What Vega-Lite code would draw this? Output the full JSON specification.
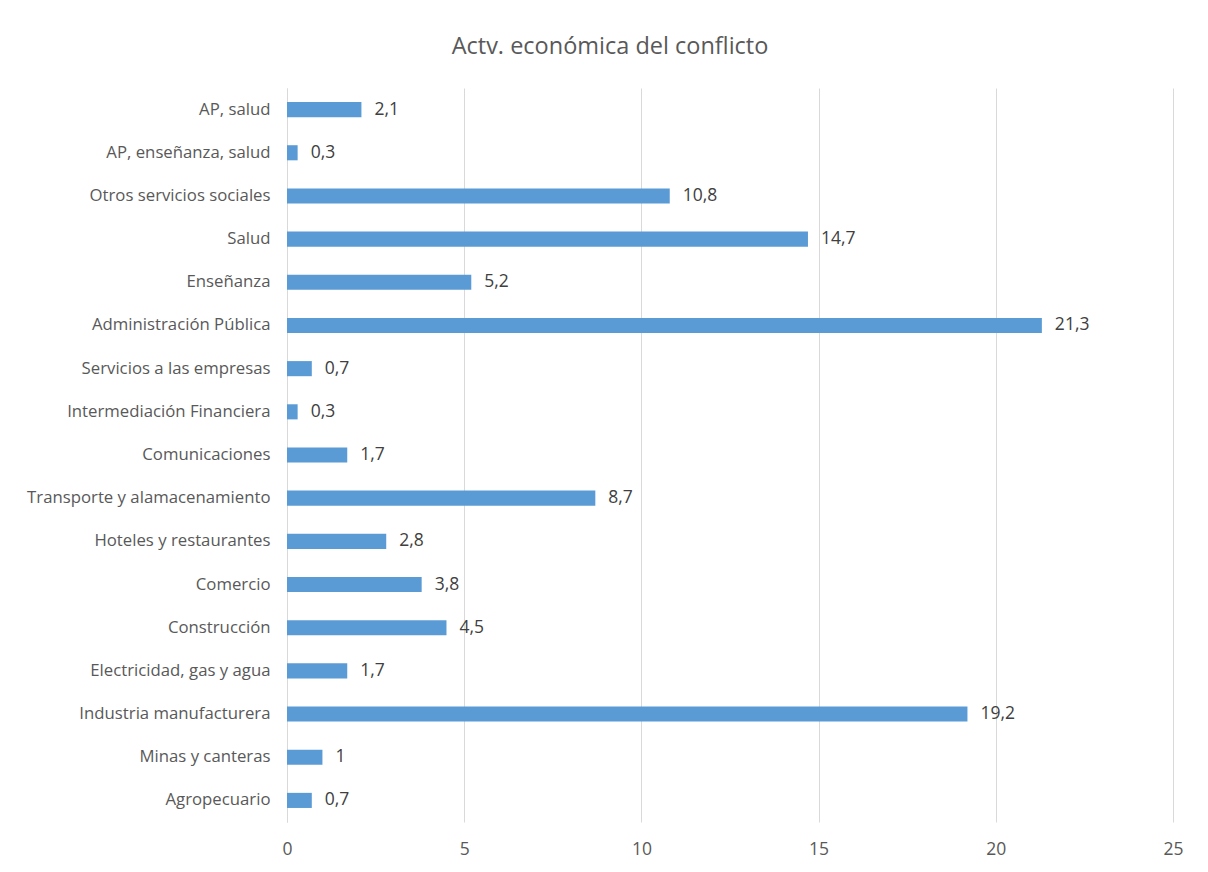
{
  "$schema": "https://vega.github.io/schema/vega-lite/v6.json",
  "width": 886,
  "height": 734,
  "autosize": "none",
  "padding": {"left": 287, "top": 88, "right": 35, "bottom": 50},
  "background": "white",
  "config": {
    "font": "Open Sans",
    "view": {"stroke": null},
    "locale": {"number": {"decimal": ",", "thousands": ".", "grouping": [3], "currency": ["", " €"]}}
  },
  "title": {
    "text": "Actv. económica del conflicto",
    "font": "Open Sans",
    "fontSize": 23.5,
    "fontWeight": "normal",
    "color": "#595959",
    "anchor": "middle",
    "dx": -120,
    "offset": 30
  },
  "data": {
    "values": [
      {"actividad": "AP, salud", "valor": 2.1},
      {"actividad": "AP, enseñanza, salud", "valor": 0.3},
      {"actividad": "Otros servicios sociales", "valor": 10.8},
      {"actividad": "Salud", "valor": 14.7},
      {"actividad": "Enseñanza", "valor": 5.2},
      {"actividad": "Administración Pública", "valor": 21.3},
      {"actividad": "Servicios a las empresas", "valor": 0.7},
      {"actividad": "Intermediación Financiera", "valor": 0.3},
      {"actividad": "Comunicaciones", "valor": 1.7},
      {"actividad": "Transporte y alamacenamiento", "valor": 8.7},
      {"actividad": "Hoteles y restaurantes", "valor": 2.8},
      {"actividad": "Comercio", "valor": 3.8},
      {"actividad": "Construcción", "valor": 4.5},
      {"actividad": "Electricidad, gas y agua", "valor": 1.7},
      {"actividad": "Industria manufacturera", "valor": 19.2},
      {"actividad": "Minas y canteras", "valor": 1.0},
      {"actividad": "Agropecuario", "valor": 0.7}
    ]
  },
  "encoding": {
    "y": {
      "field": "actividad",
      "type": "nominal",
      "sort": null,
      "scale": {"paddingInner": 0.65, "paddingOuter": 0.325},
      "axis": {
        "title": null,
        "ticks": false,
        "domainColor": "#d9d9d9",
        "domainWidth": 1,
        "labelFontSize": 16.75,
        "labelColor": "#595959",
        "labelPadding": 17,
        "labelLimit": 300
      }
    },
    "x": {
      "field": "valor",
      "type": "quantitative",
      "scale": {"domain": [0, 25], "nice": false},
      "axis": {
        "title": null,
        "values": [0, 5, 10, 15, 20, 25],
        "domain": false,
        "ticks": false,
        "gridColor": "#d9d9d9",
        "gridWidth": 1,
        "labelFontSize": 17.5,
        "labelColor": "#595959",
        "labelPadding": 18,
        "labelFlush": false,
        "format": "d"
      }
    }
  },
  "layer": [
    {"mark": {"type": "bar", "color": "#5b9bd5"}},
    {
      "mark": {"type": "text", "align": "left", "baseline": "middle", "dx": 13, "fontSize": 17.5, "color": "#404040"},
      "encoding": {"text": {"field": "valor", "type": "quantitative", "format": "~g"}}
    }
  ]
}
